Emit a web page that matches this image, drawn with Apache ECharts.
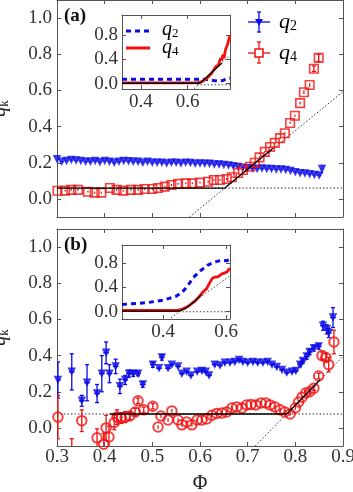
<!DOCTYPE html>
<html><head><meta charset="utf-8">
<script src="https://cdn.jsdelivr.net/npm/echarts@6/dist/echarts.min.js"></script>
<style>html,body{margin:0;padding:0;background:#fff}#c{width:353px;height:492px}</style>
</head><body><div id="c"></div>
<script>
// ---------- tick values ----------
const X_TICKS = [0.3, 0.4, 0.5, 0.6, 0.7, 0.8, 0.9];
const Y_TICKS = [0.0, 0.2, 0.4, 0.6, 0.8, 1.0];
const INSET_X_TICKS = [0.4, 0.6];
const INSET_Y_TICKS = [0.0, 0.4, 0.8];

// ---------- panel (a) ----------
const A_Q2_PHI = [0.30,0.31,0.32,0.33,0.34,0.35,0.36,0.37,0.38,0.39,0.40,0.41,0.42,0.43,0.44,0.45,0.46,0.47,0.48,0.49,0.50,0.51,0.52,0.53,0.54,0.55,0.56,0.57,0.58,0.59,0.60,0.61,0.62,0.63,0.64,0.65,0.66,0.67,0.68,0.69,0.70,0.71,0.72,0.73,0.74,0.75,0.76,0.77,0.78,0.79,0.80,0.81,0.82,0.83,0.84,0.85,0.856];
const A_Q2 = [0.22,0.205,0.21,0.215,0.212,0.21,0.205,0.205,0.21,0.203,0.21,0.205,0.2,0.205,0.21,0.208,0.205,0.205,0.2,0.205,0.2,0.2,0.2,0.196,0.2,0.2,0.196,0.2,0.198,0.195,0.196,0.195,0.194,0.19,0.19,0.188,0.185,0.18,0.176,0.172,0.17,0.168,0.166,0.168,0.165,0.165,0.162,0.163,0.16,0.155,0.148,0.142,0.14,0.136,0.132,0.13,0.165];
const A_Q2_ERR = [0.012,0.006,0.006,0.006,0.006,0.006,0.006,0.006,0.006,0.006,0.006,0.006,0.006,0.006,0.006,0.006,0.006,0.006,0.006,0.006,0.006,0.006,0.006,0.006,0.006,0.006,0.006,0.006,0.006,0.006,0.006,0.006,0.006,0.006,0.006,0.006,0.006,0.006,0.006,0.006,0.006,0.006,0.006,0.006,0.006,0.006,0.006,0.006,0.006,0.006,0.006,0.006,0.006,0.006,0.006,0.006,0.022];
const A_Q4_PHI = [0.301,0.317,0.33,0.344,0.365,0.379,0.393,0.411,0.425,0.439,0.455,0.47,0.484,0.50,0.512,0.526,0.54,0.554,0.57,0.584,0.60,0.617,0.629,0.642,0.656,0.667,0.68,0.69,0.705,0.715,0.725,0.736,0.747,0.757,0.768,0.778,0.789,0.799,0.81,0.818,0.83,0.839,0.849];
const A_Q4 = [0.045,0.046,0.05,0.05,0.04,0.035,0.035,0.06,0.05,0.046,0.05,0.05,0.055,0.055,0.06,0.068,0.077,0.083,0.086,0.086,0.09,0.095,0.105,0.105,0.11,0.12,0.143,0.16,0.178,0.2,0.23,0.26,0.287,0.31,0.336,0.363,0.42,0.46,0.53,0.59,0.63,0.72,0.78];
const A_Q4_ERR = [0.008,0.005,0.005,0.005,0.005,0.005,0.005,0.005,0.005,0.005,0.005,0.005,0.005,0.005,0.005,0.005,0.005,0.005,0.005,0.005,0.005,0.005,0.005,0.005,0.005,0.005,0.005,0.005,0.005,0.005,0.005,0.005,0.005,0.005,0.005,0.005,0.005,0.005,0.008,0.01,0.01,0.015,0.02];
const A_FIT_PHI = [0.30, 0.652, 0.753];
const A_FIT = [0.06, 0.06, 0.28];
const A_GUIDE_H_PHI = [0.30, 0.90];
const A_GUIDE_H = [0.06, 0.06];
const A_GUIDE_D_PHI = [0.578, 0.90];
const A_GUIDE_D = [-0.10, 0.593];

// ---------- panel (b) ----------
const B_Q2_PHI = [0.302,0.331,0.352,0.363,0.384,0.394,0.403,0.41,0.423,0.432,0.443,0.451,0.46,0.47,0.48,0.501,0.514,0.52,0.533,0.541,0.554,0.562,0.572,0.581,0.594,0.604,0.612,0.619,0.631,0.642,0.652,0.663,0.673,0.682,0.69,0.70,0.711,0.721,0.732,0.742,0.751,0.761,0.772,0.782,0.793,0.801,0.81,0.816,0.824,0.83,0.839,0.849,0.858,0.866,0.87,0.879];
const B_Q2 = [0.265,0.31,0.15,0.25,0.19,0.30,0.415,0.30,0.34,0.23,0.265,0.30,0.30,0.30,0.24,0.35,0.33,0.39,0.33,0.35,0.34,0.30,0.31,0.29,0.31,0.315,0.31,0.29,0.35,0.345,0.36,0.36,0.365,0.375,0.365,0.36,0.365,0.36,0.36,0.365,0.35,0.337,0.32,0.305,0.31,0.315,0.35,0.37,0.395,0.42,0.44,0.45,0.565,0.545,0.525,0.61];
const B_Q2_ERR = [0.10,0.10,0.03,0.10,0.05,0.10,0.06,0.05,0.04,0.04,0.025,0.02,0.015,0.012,0.015,0.015,0.01,0.015,0.01,0.01,0.01,0.01,0.01,0.01,0.01,0.01,0.01,0.01,0.01,0.01,0.01,0.01,0.01,0.01,0.01,0.01,0.01,0.01,0.01,0.01,0.01,0.01,0.01,0.01,0.01,0.01,0.012,0.012,0.015,0.015,0.015,0.015,0.025,0.025,0.025,0.055];
const B_Q4_PHI = [0.302,0.331,0.352,0.384,0.398,0.403,0.409,0.42,0.426,0.435,0.443,0.453,0.464,0.47,0.482,0.501,0.512,0.518,0.533,0.541,0.554,0.562,0.572,0.583,0.594,0.604,0.614,0.625,0.635,0.646,0.656,0.667,0.677,0.688,0.698,0.707,0.717,0.728,0.738,0.747,0.757,0.768,0.778,0.789,0.80,0.807,0.814,0.822,0.83,0.839,0.849,0.856,0.864,0.87,0.881];
const B_Q4 = [0.06,-0.16,0.04,-0.055,-0.09,0.0,-0.05,0.03,0.06,0.055,0.06,0.066,0.088,0.15,0.10,0.12,0.005,0.066,0.044,0.094,0.044,0.017,0.033,0.017,0.044,0.044,0.05,0.07,0.08,0.083,0.088,0.11,0.116,0.11,0.127,0.13,0.127,0.138,0.138,0.127,0.116,0.10,0.088,0.077,0.11,0.143,0.17,0.193,0.20,0.22,0.287,0.40,0.39,0.35,0.475];
const B_Q4_ERR = [0.12,0.10,0.06,0.05,0.06,0.07,0.06,0.04,0.04,0.03,0.03,0.02,0.02,0.015,0.015,0.015,0.01,0.01,0.01,0.01,0.01,0.01,0.01,0.01,0.01,0.01,0.01,0.01,0.01,0.01,0.01,0.01,0.01,0.01,0.01,0.01,0.01,0.01,0.01,0.01,0.01,0.01,0.01,0.01,0.01,0.01,0.01,0.012,0.012,0.012,0.015,0.02,0.02,0.04,0.065];
const B_FIT_PHI = [0.411, 0.782, 0.852];
const B_FIT = [0.077, 0.077, 0.266];
const B_GUIDE_H_PHI = [0.30, 0.90];
const B_GUIDE_H = [0.077, 0.077];
const B_GUIDE_D_PHI = [0.716, 0.90];
const B_GUIDE_D = [-0.10, 0.396];

// ---------- inset (a) ----------
const IA_Q2_PHI = [0.32,0.40,0.50,0.60,0.66,0.69,0.71,0.73,0.75,0.765,0.78];
const IA_Q2 = [0.07,0.07,0.07,0.07,0.07,0.065,0.05,0.04,0.05,0.08,0.09];
const IA_Q4_PHI = [0.32,0.50,0.64,0.66,0.68,0.70,0.71,0.72,0.73,0.74,0.745,0.75,0.755,0.76,0.765,0.77,0.78];
const IA_Q4 = [0.01,0.01,0.01,0.03,0.08,0.16,0.22,0.28,0.30,0.42,0.38,0.48,0.42,0.55,0.60,0.65,0.80];
const IA_FIT_PHI = [0.32, 0.652, 0.746];
const IA_FIT = [0.005, 0.005, 0.34];
const IA_GUIDE_H_PHI = [0.64, 0.78];
const IA_GUIDE_H = [-0.02, -0.02];
const IA_GUIDE_D_PHI = [0.627, 0.78];
const IA_GUIDE_D = [-0.085, 0.466];

// ---------- inset (b) ----------
const IB_Q2_PHI = [0.27,0.30,0.35,0.40,0.44,0.46,0.476,0.495,0.517,0.542,0.564,0.586,0.60,0.612];
const IB_Q2 = [0.12,0.13,0.15,0.19,0.25,0.32,0.41,0.56,0.67,0.77,0.82,0.85,0.84,0.86];
const IB_Q4_PHI = [0.27,0.44,0.46,0.48,0.50,0.515,0.527,0.538,0.548,0.556,0.564,0.575,0.585,0.595,0.603,0.612];
const IB_Q4 = [0.02,0.02,0.04,0.09,0.17,0.25,0.33,0.38,0.48,0.55,0.57,0.58,0.62,0.64,0.66,0.72];
const IB_FIT_PHI = [0.27,0.45,0.47,0.49,0.51,0.52];
const IB_FIT = [0.01,0.01,0.05,0.13,0.22,0.28];
const IB_GUIDE_H_PHI = [0.45, 0.612];
const IB_GUIDE_H = [0.0, 0.0];
const IB_GUIDE_D_PHI = [0.425, 0.612];
const IB_GUIDE_D = [-0.10, 0.59];

// ---------- styling ----------
const SERIF = "'Liberation Serif','DejaVu Serif',serif";
const FRAME = '#555';
const LABEL = '#333';
const BLUE = '#0a0ae6';
const RED = '#f01010';

const pairs = (xs, ys) => xs.map((x, i) => [x, ys[i]]);
const errData = (xs, ys, es, ex) => xs.map((x, i) => [x, ys[i], es[i], ex]);

function axis(grid, pos, min, max, ticks, showLabels, margin, extra) {
  return Object.assign({
    type: 'value', gridIndex: grid, position: pos, min: min, max: max,
    axisLine: { show: true, onZero: false, lineStyle: { color: FRAME, width: 1 } },
    axisTick: { show: true, inside: true, length: 4, customValues: ticks, lineStyle: { color: FRAME, width: 1 } },
    axisLabel: { show: showLabels, customValues: ticks, margin: margin, formatter: v => v.toFixed(1),
      fontFamily: SERIF, fontSize: 19, color: LABEL },
    splitLine: { show: false }
  }, extra || {});
}

function errSeries(xi, yi, data, color, cap, width) {
  return {
    type: 'custom', xAxisIndex: xi, yAxisIndex: yi, data: data, clip: true, z: 2, silent: true,
    renderItem: function (params, api) {
      const x = api.value(0), y = api.value(1), ey = api.value(2), ex = api.value(3);
      const ch = [];
      const st = { stroke: color, lineWidth: width };
      if (ey > 0) {
        const a = api.coord([x, y - ey]), b = api.coord([x, y + ey]);
        ch.push({ type: 'line', shape: { x1: a[0], y1: a[1], x2: b[0], y2: b[1] }, style: st });
        if (cap > 0 && Math.abs(a[1] - b[1]) > 4) {
          ch.push({ type: 'line', shape: { x1: a[0] - cap, y1: a[1], x2: a[0] + cap, y2: a[1] }, style: st });
          ch.push({ type: 'line', shape: { x1: b[0] - cap, y1: b[1], x2: b[0] + cap, y2: b[1] }, style: st });
        }
      }
      if (ex > 0) {
        const a = api.coord([x - ex, y]), b = api.coord([x + ex, y]);
        ch.push({ type: 'line', shape: { x1: a[0], y1: a[1], x2: b[0], y2: b[1] }, style: st });
      }
      return { type: 'group', children: ch };
    }
  };
}

function lineSeries(xi, yi, data, color, width, type, z) {
  return { type: 'line', xAxisIndex: xi, yAxisIndex: yi, data: data, symbol: 'none', z: z || 4, silent: true,
    lineStyle: { color: color, width: width, type: type || 'solid' }, clip: true };
}

const richQ = (fs, ss, off) => ({
  q: { fontFamily: SERIF, fontStyle: 'italic', fontSize: fs, color: '#222' },
  s: { fontFamily: SERIF, fontSize: ss, color: '#222', padding: [off, 0, 0, 0] }
});

const chart = echarts.init(document.getElementById('c'), null, { renderer: 'canvas' });

const option = {
  animation: false,
  backgroundColor: '#fff',
  grid: [
    { left: 57, top: 0, width: 286, height: 217, show: false, containLabel: false, outerBoundsMode: 'none' },
    { left: 57, top: 229, width: 286, height: 217, show: false, containLabel: false, outerBoundsMode: 'none' },
    { left: 122, top: 15, width: 108, height: 74, show: true, backgroundColor: '#fff', borderWidth: 0, containLabel: false, outerBoundsMode: 'none' },
    { left: 122, top: 245, width: 108, height: 74, show: true, backgroundColor: '#fff', borderWidth: 0, containLabel: false, outerBoundsMode: 'none' }
  ],
  xAxis: [
    axis(0, 'bottom', 0.3, 0.9, X_TICKS, false, 3),
    axis(0, 'top', 0.3, 0.9, X_TICKS, false, 3),
    axis(1, 'bottom', 0.3, 0.9, X_TICKS, true, 2, {
      name: 'Φ', nameLocation: 'middle', nameGap: 28,
      nameTextStyle: { fontFamily: SERIF, fontSize: 20, color: '#222' } }),
    axis(1, 'top', 0.3, 0.9, X_TICKS, false, 3),
    axis(2, 'bottom', 0.32, 0.78, INSET_X_TICKS, true, 4),
    axis(2, 'top', 0.32, 0.78, INSET_X_TICKS, false, 3),
    axis(3, 'bottom', 0.27, 0.612, INSET_X_TICKS, true, 4),
    axis(3, 'top', 0.27, 0.612, INSET_X_TICKS, false, 3)
  ],
  yAxis: [
    axis(0, 'left', -0.1, 1.1, Y_TICKS, true, 5, {
      name: '{q|q}{s|k}', nameLocation: 'middle', nameGap: 46, nameRotate: 90,
      nameTextStyle: { rich: richQ(20, 13, 9) } }),
    axis(0, 'right', -0.1, 1.1, Y_TICKS, false, 3),
    axis(1, 'left', -0.1, 1.1, Y_TICKS, true, 5, {
      name: '{q|q}{s|k}', nameLocation: 'middle', nameGap: 46, nameRotate: 90,
      nameTextStyle: { rich: richQ(20, 13, 9) } }),
    axis(1, 'right', -0.1, 1.1, Y_TICKS, false, 3),
    axis(2, 'left', -0.09, 1.13, INSET_Y_TICKS, true, 4),
    axis(2, 'right', -0.09, 1.13, INSET_Y_TICKS, false, 3),
    axis(3, 'left', -0.12, 1.1, INSET_Y_TICKS, true, 4),
    axis(3, 'right', -0.12, 1.1, INSET_Y_TICKS, false, 3)
  ],
  series: [
    // panel (a)
    lineSeries(0, 0, pairs(A_GUIDE_H_PHI, A_GUIDE_H), '#333', 1, [1.5, 2], 1),
    lineSeries(0, 0, pairs(A_GUIDE_D_PHI, A_GUIDE_D), '#333', 1, [1.5, 2], 1),
    errSeries(0, 0, errData(A_Q2_PHI, A_Q2, A_Q2_ERR, 0.005), '#6a6af5', 1.5, 1),
    errSeries(0, 0, errData(A_Q4_PHI, A_Q4, A_Q4_ERR, 0), RED, 2, 1.3),
    { type: 'scatter', name: 'q2', xAxisIndex: 0, yAxisIndex: 0, data: pairs(A_Q2_PHI, A_Q2),
      symbol: 'triangle', symbolRotate: 180, symbolSize: 8.5, z: 3, itemStyle: { color: BLUE } },
    { type: 'scatter', name: 'q4', xAxisIndex: 0, yAxisIndex: 0, data: pairs(A_Q4_PHI, A_Q4),
      symbol: 'rect', symbolSize: 8.5, z: 3,
      itemStyle: { color: 'rgba(255,255,255,0)', borderColor: RED, borderWidth: 1.6 } },
    lineSeries(0, 0, pairs(A_FIT_PHI, A_FIT), '#000', 1.3, 'solid', 5),

    // panel (b)
    lineSeries(2, 2, pairs(B_GUIDE_H_PHI, B_GUIDE_H), '#333', 1, [1.5, 2], 1),
    lineSeries(2, 2, pairs(B_GUIDE_D_PHI, B_GUIDE_D), '#333', 1, [1.5, 2], 1),
    errSeries(2, 2, errData(B_Q2_PHI, B_Q2, B_Q2_ERR, 0.006), BLUE, 2, 1.3),
    errSeries(2, 2, errData(B_Q4_PHI, B_Q4, B_Q4_ERR, 0), RED, 2, 1.3),
    { type: 'scatter', xAxisIndex: 2, yAxisIndex: 2, data: pairs(B_Q2_PHI, B_Q2),
      symbol: 'triangle', symbolRotate: 180, symbolSize: 8.5, z: 3, itemStyle: { color: BLUE } },
    { type: 'scatter', xAxisIndex: 2, yAxisIndex: 2, data: pairs(B_Q4_PHI, B_Q4),
      symbol: 'circle', symbolSize: 9.5, z: 3,
      itemStyle: { color: 'rgba(255,255,255,0)', borderColor: RED, borderWidth: 2 } },
    lineSeries(2, 2, pairs(B_FIT_PHI, B_FIT), '#000', 1.3, 'solid', 5),

    // inset (a)
    lineSeries(4, 4, pairs(IA_GUIDE_H_PHI, IA_GUIDE_H), '#444', 1, [1.5, 2], 3),
    lineSeries(4, 4, pairs(IA_GUIDE_D_PHI, IA_GUIDE_D), '#444', 1, [1.5, 2], 3),
    lineSeries(4, 4, pairs(IA_Q2_PHI, IA_Q2), BLUE, 3, [5, 4], 4),
    lineSeries(4, 4, pairs(IA_Q4_PHI, IA_Q4), RED, 2.8, 'solid', 4),
    lineSeries(4, 4, pairs(IA_FIT_PHI, IA_FIT), '#000', 1.3, 'solid', 5),

    // inset (b)
    lineSeries(6, 6, pairs(IB_GUIDE_H_PHI, IB_GUIDE_H), '#444', 1, [1.5, 2], 3),
    lineSeries(6, 6, pairs(IB_GUIDE_D_PHI, IB_GUIDE_D), '#444', 1, [1.5, 2], 3),
    lineSeries(6, 6, pairs(IB_Q2_PHI, IB_Q2), BLUE, 3, [5, 4], 4),
    lineSeries(6, 6, pairs(IB_Q4_PHI, IB_Q4), RED, 2.8, 'solid', 4),
    lineSeries(6, 6, pairs(IB_FIT_PHI, IB_FIT), '#000', 1.3, 'solid', 5)
  ],
  graphic: [
    { type: 'text', left: 64, top: 7, z: 10, style: { text: '(a)', font: "bold 19px " + SERIF, fill: '#111' } },
    { type: 'text', left: 64, top: 236, z: 10, style: { text: '(b)', font: "bold 19px " + SERIF, fill: '#111' } },
    // main legend
    { type: 'group', z: 10, children: [
      { type: 'line', shape: { x1: 259, y1: 12, x2: 259, y2: 32 }, style: { stroke: BLUE, lineWidth: 1.3 } },
      { type: 'line', shape: { x1: 248, y1: 22, x2: 270, y2: 22 }, style: { stroke: BLUE, lineWidth: 1.3 } },
      { type: 'line', shape: { x1: 257, y1: 12, x2: 261, y2: 12 }, style: { stroke: BLUE, lineWidth: 1.3 } },
      { type: 'line', shape: { x1: 257, y1: 32, x2: 261, y2: 32 }, style: { stroke: BLUE, lineWidth: 1.3 } },
      { type: 'polygon', shape: { points: [[255, 19], [263, 19], [259, 26]] }, style: { fill: BLUE } },
      { type: 'line', shape: { x1: 259, y1: 42, x2: 259, y2: 63 }, style: { stroke: RED, lineWidth: 1.3 } },
      { type: 'line', shape: { x1: 248, y1: 53, x2: 270, y2: 53 }, style: { stroke: RED, lineWidth: 1.3 } },
      { type: 'line', shape: { x1: 257, y1: 42, x2: 261, y2: 42 }, style: { stroke: RED, lineWidth: 1.3 } },
      { type: 'line', shape: { x1: 257, y1: 63, x2: 261, y2: 63 }, style: { stroke: RED, lineWidth: 1.3 } },
      { type: 'rect', shape: { x: 255, y: 49, width: 8, height: 8 }, style: { fill: '#fff', stroke: RED, lineWidth: 1.5 } },
      { type: 'text', x: 279, y: 22, style: { text: '{q|q}{s|2}', rich: richQ(22, 14, 9), verticalAlign: 'middle' } },
      { type: 'text', x: 279, y: 53, style: { text: '{q|q}{s|4}', rich: richQ(22, 14, 9), verticalAlign: 'middle' } }
    ]},
    // inset (a) legend
    { type: 'group', z: 10, children: [
      { type: 'line', shape: { x1: 126, y1: 31, x2: 150, y2: 31 }, style: { stroke: BLUE, lineWidth: 3, lineDash: [5, 4] } },
      { type: 'line', shape: { x1: 126, y1: 48, x2: 150, y2: 48 }, style: { stroke: RED, lineWidth: 3 } },
      { type: 'text', x: 162, y: 30, style: { text: '{q|q}{s|2}', rich: richQ(20, 13, 8), verticalAlign: 'middle' } },
      { type: 'text', x: 162, y: 48, style: { text: '{q|q}{s|4}', rich: richQ(20, 13, 8), verticalAlign: 'middle' } }
    ]}
  ]
};
chart.setOption(option);
</script>
</body></html>
